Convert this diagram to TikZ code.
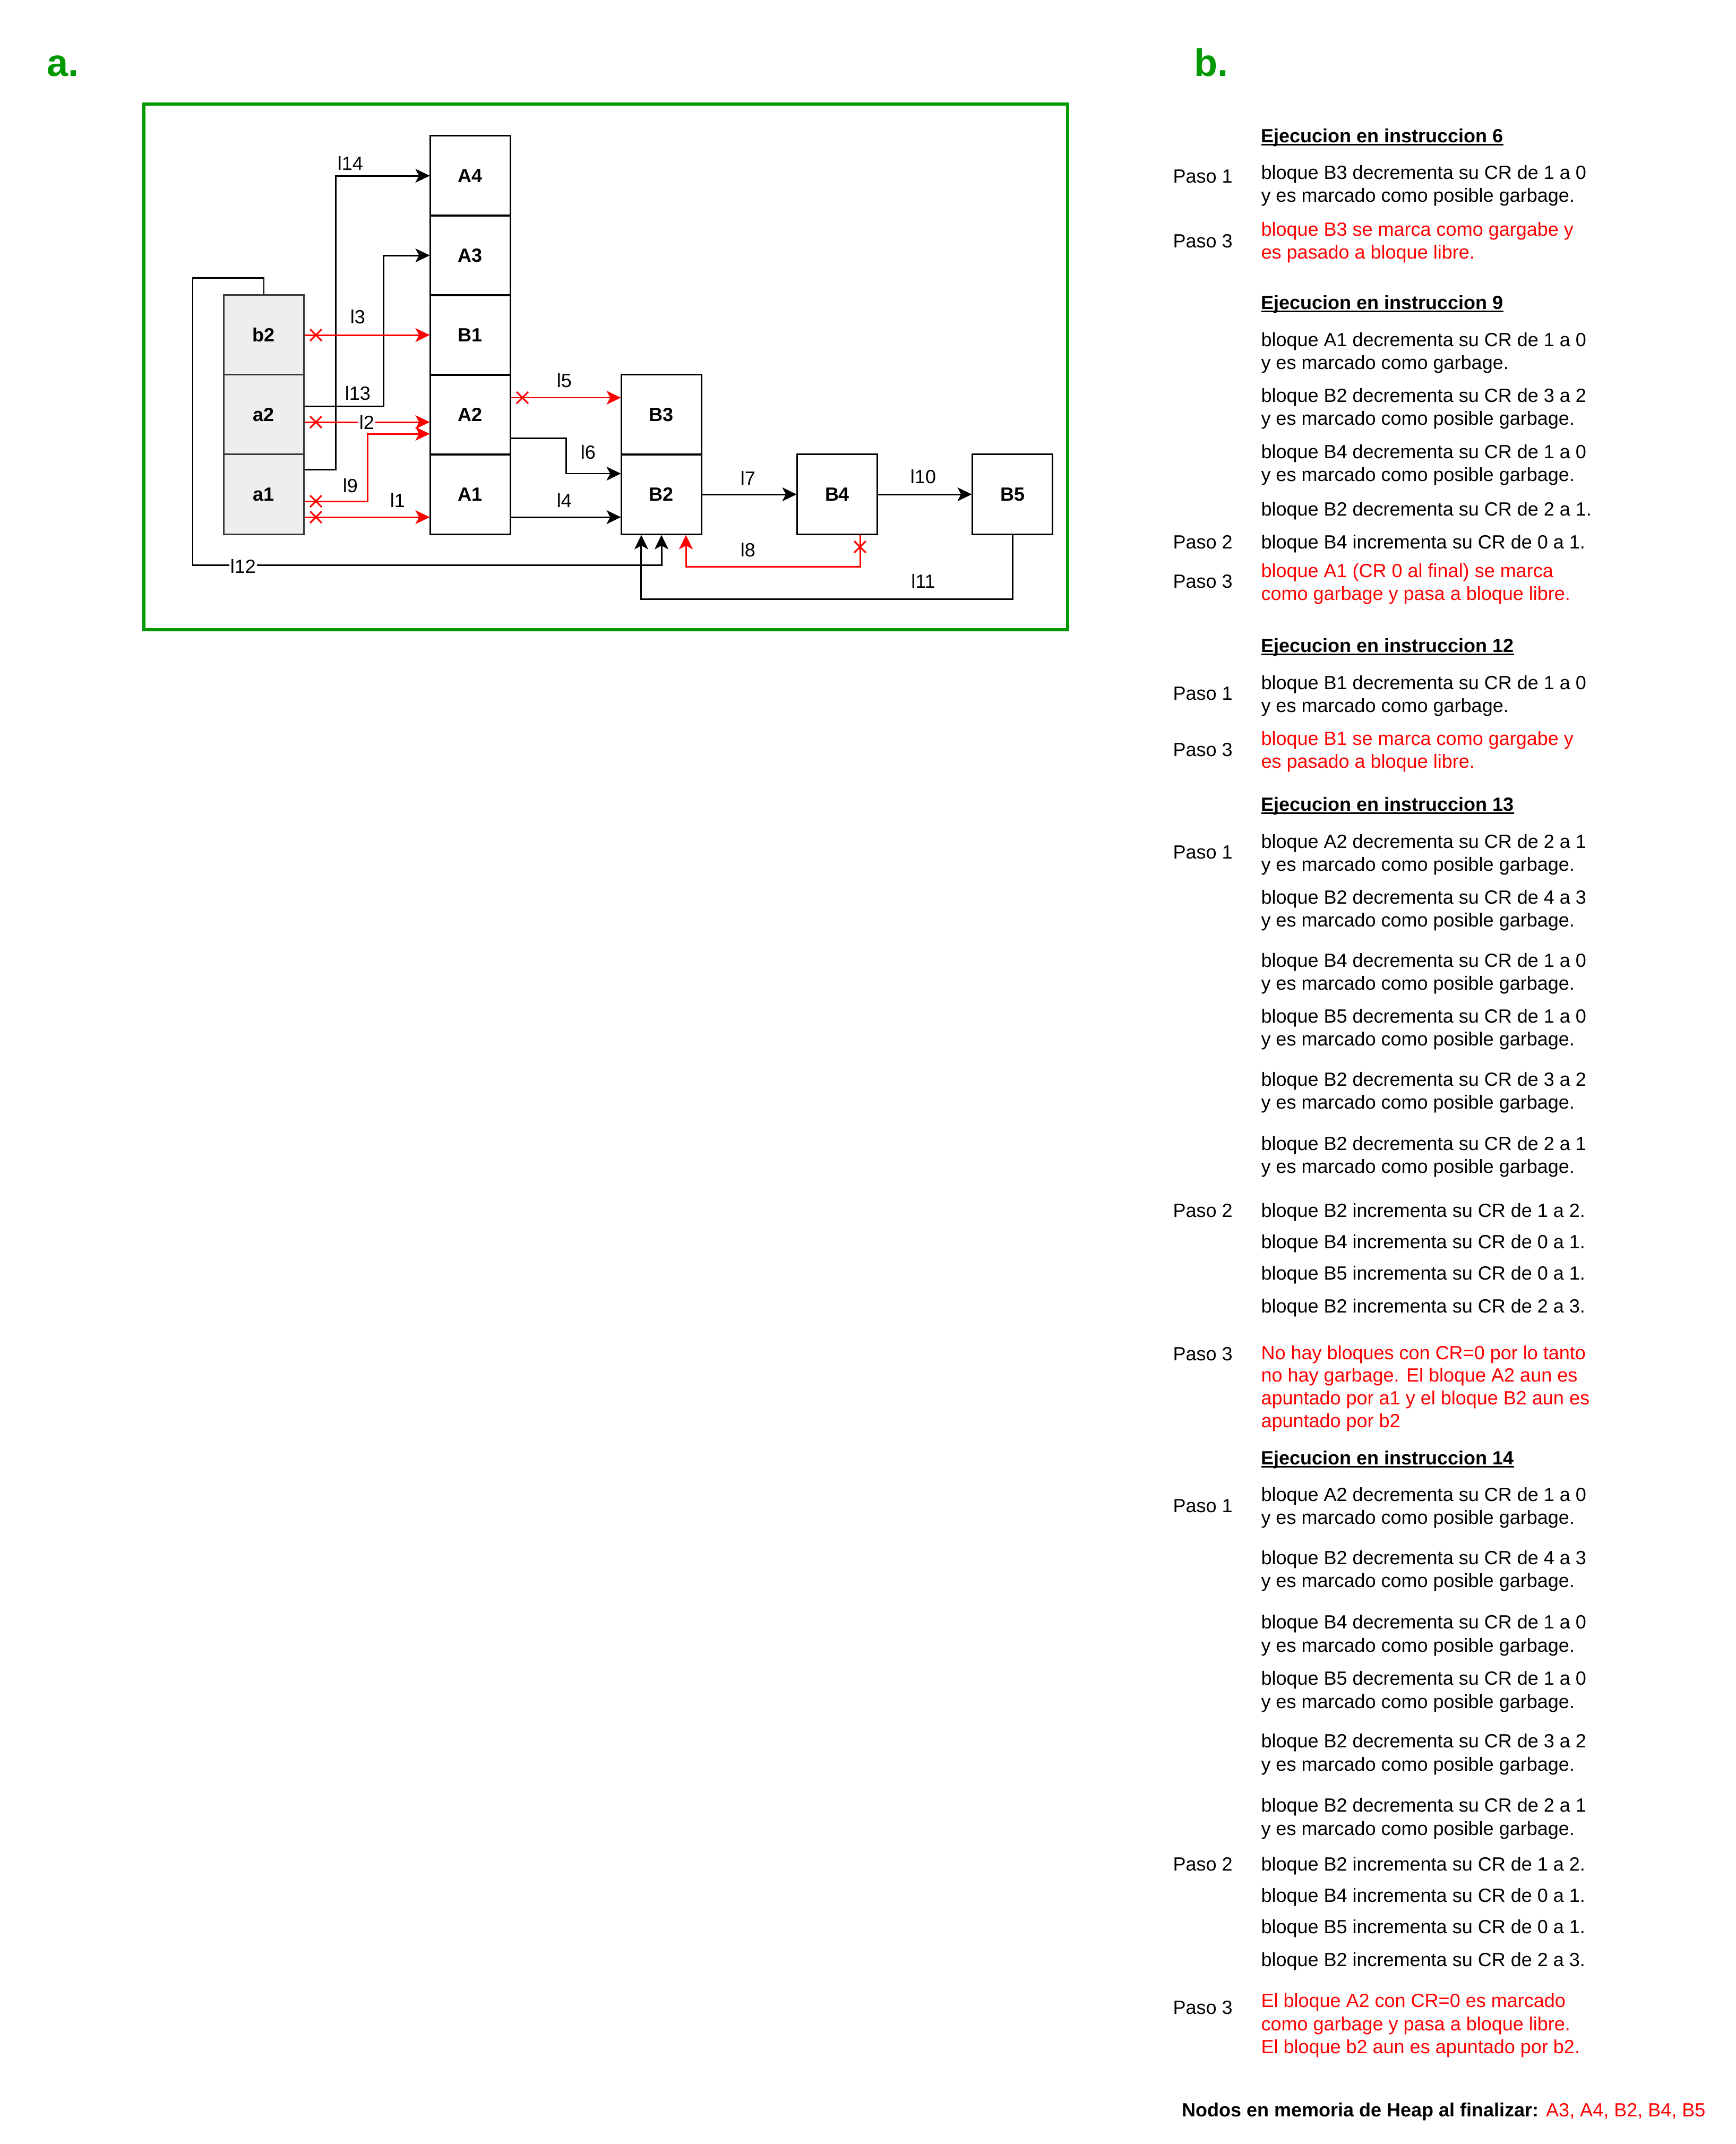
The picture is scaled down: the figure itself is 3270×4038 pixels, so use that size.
\documentclass[tikz,border=0pt]{standalone}
\usepackage{fontspec}
\setmainfont{Liberation Sans}
\usetikzlibrary{arrows.meta}
\definecolor{gr}{HTML}{009900}
\definecolor{rd}{HTML}{FF0000}
\definecolor{boxgray}{HTML}{EEEEEE}
\definecolor{boxline}{HTML}{36393D}
\newsavebox\hdrbox
\newcommand\hdrtxt[1]{\sbox\hdrbox{\bfseries #1}\rlap{\rule[-1.6pt]{\wd\hdrbox}{0.75pt}}\usebox\hdrbox}
\newcommand\mlines[1]{\begin{tabular}[t]{@{}l@{}}#1\end{tabular}}
\newcommand\xmk[2]{\draw[xcross] (#1-11,#2-11) -- (#1+11,#2+11) (#1-11,#2+11) -- (#1+11,#2-11);}
\begin{document}
\begin{tikzpicture}[x=0.01cm,y=-0.01cm,line width=0.85pt,
  >={Stealth[length=0.27cm,width=0.26cm,inset=0.07cm]},
  box/.style={draw,minimum width=1.5cm,minimum height=1.5cm,inner sep=0pt,font=\fontsize{10.24}{12.3}\selectfont\bfseries},
  vbox/.style={box,fill=boxgray,draw=boxline},
  lbl/.style={inner sep=1pt,font=\fontsize{10.24}{12.3}\selectfont},
  onl/.style={lbl,fill=white,inner sep=0.5pt},
  txt/.style={anchor=base west,inner sep=0pt,font=\fontsize{10.24}{12.5}\selectfont},
  rtxt/.style={txt,text=rd},
  big/.style={anchor=base west,inner sep=0pt,text=gr,font=\fontsize{20.5}{24}\selectfont\bfseries},
  conn/.style={->},
  rconn/.style={->,draw=rd},
  xcross/.style={draw=rd,line width=0.85pt}]
\useasboundingbox (0,0) rectangle (3270,4038);
\node[big] (la) at (87,143) {a.};
\node[big] (lb) at (2248,143) {b.};
\draw[gr,line width=1.5pt] (271,196) rectangle (2011,1186);
% boxes
\node[vbox] (b2) at (497,631) {b2};
\node[vbox] (a2) at (497,781) {a2};
\node[vbox] (a1) at (497,931) {a1};
\node[box] (A4) at (886,331) {A4};
\node[box] (A3) at (886,481) {A3};
\node[box] (B1) at (886,631) {B1};
\node[box] (A2) at (886,781) {A2};
\node[box] (A1) at (886,931) {A1};
\node[box] (B3) at (1246,781) {B3};
\node[box] (B2) at (1246,931) {B2};
\node[box] (B4) at (1577,931) {B4};
\node[box] (B5) at (1907,931) {B5};
% connectors
\draw[conn] ([yshift=0.46cm]a1.east) -- ++(59,0) |- (A4.west);
\draw[conn] ([yshift=0.16cm]a2.east) -- ++(149,0) |- (A3.west);
\draw[rconn] (b2.east) -- (B1.west);
\draw[rconn] ([yshift=-0.14cm]a2.east) -- ([yshift=-0.14cm]A2.west);
\draw[rconn] ([yshift=-0.13cm]a1.east) -- ++(119,0) |- ([yshift=-0.36cm]A2.west);
\draw[rconn] ([yshift=-0.43cm]a1.east) -- ([yshift=-0.43cm]A1.west);
\draw[rconn] ([yshift=0.32cm]A2.east) -- ([yshift=0.32cm]B3.west);
\draw[conn] ([yshift=-0.44cm]A2.east) -- ++(104,0) |- ([yshift=0.39cm]B2.west);
\draw[conn] ([yshift=-0.43cm]A1.east) -- ([yshift=-0.43cm]B2.west);
\draw[conn] (B2.east) -- (B4.west);
\draw[conn] (B4.east) -- (B5.west);
\draw[conn] (b2.north) -- ++(0,-31) -- ++(-134,0) -- ++(0,541) -| (B2.south);
\draw[conn] (B5.south) -- ++(0,121) -| ([xshift=-0.38cm]B2.south);
\draw[rconn] ([xshift=0.43cm]B4.south) -- ++(0,60) -| ([xshift=0.46cm]B2.south);
% crosses
\xmk{595}{631}
\xmk{595}{795}
\xmk{595}{944}
\xmk{595}{974}
\xmk{984}{749}
\xmk{1620}{1030}
% labels
\node[lbl] (l14) at (660,307) {l14};
\node[lbl] (l3) at (674,597) {l3};
\node[lbl] (l13) at (674,741) {l13};
\node[onl] (l2) at (691,795) {l2};
\node[lbl] (l9) at (660,915) {l9};
\node[lbl] (l1) at (749,942) {l1};
\node[lbl] (l5) at (1063,717) {l5};
\node[lbl] (l6) at (1108,852) {l6};
\node[lbl] (l4) at (1063,942) {l4};
\node[onl] (l12) at (458,1066) {l12};
\node[lbl] (l7) at (1409,900) {l7};
\node[lbl] (l10) at (1739,898) {l10};
\node[lbl] (l8) at (1409,1036) {l8};
\node[lbl] (l11) at (1739,1094) {l11};
% text column
\node[txt] (h6) at (2374,268) {\hdrtxt{Ejecucion en instruccion 6}};
\node[txt] (p61) at (2208,344) {Paso 1};
\node[txt] (t61) at (2374,337) {\mlines{bloque B3 decrementa su CR de 1 a 0\\y es marcado como posible garbage.}};
\node[txt] (p63) at (2208,466) {Paso 3};
\node[rtxt] (t63) at (2374,444) {\mlines{bloque B3 se marca como gargabe y\\es pasado a bloque libre.}};
\node[txt] (h9) at (2374,582) {\hdrtxt{Ejecucion en instruccion 9}};
\node[txt] (t91) at (2374,652) {\mlines{bloque A1 decrementa su CR de 1 a 0\\y es marcado como garbage.}};
\node[txt] (t92) at (2374,757) {\mlines{bloque B2 decrementa su CR de 3 a 2\\y es marcado como posible garbage.}};
\node[txt] (t93) at (2374,863) {\mlines{bloque B4 decrementa su CR de 1 a 0\\y es marcado como posible garbage.}};
\node[txt] (t94) at (2374,971) {bloque B2 decrementa su CR de 2 a 1.};
\node[txt] (p92) at (2208,1033) {Paso 2};
\node[txt] (t95) at (2374,1033) {bloque B4 incrementa su CR de 0 a 1.};
\node[txt] (p93) at (2208,1107) {Paso 3};
\node[rtxt] (t96) at (2374,1087) {\mlines{bloque A1 (CR 0 al final) se marca\\como garbage y pasa a bloque libre.}};
\node[txt] (h12) at (2374,1228) {\hdrtxt{Ejecucion en instruccion 12}};
\node[txt] (p121) at (2208,1318) {Paso 1};
\node[txt] (t121) at (2374,1298) {\mlines{bloque B1 decrementa su CR de 1 a 0\\y es marcado como garbage.}};
\node[txt] (p123) at (2208,1424) {Paso 3};
\node[rtxt] (t123) at (2374,1403) {\mlines{bloque B1 se marca como gargabe y\\es pasado a bloque libre.}};
\node[txt] (h13) at (2374,1527) {\hdrtxt{Ejecucion en instruccion 13}};
\node[txt] (p131) at (2208,1617) {Paso 1};
\node[txt] (t131) at (2374,1597) {\mlines{bloque A2 decrementa su CR de 2 a 1\\y es marcado como posible garbage.}};
\node[txt] (t132) at (2374,1702) {\mlines{bloque B2 decrementa su CR de 4 a 3\\y es marcado como posible garbage.}};
\node[txt] (t133) at (2374,1821) {\mlines{bloque B4 decrementa su CR de 1 a 0\\y es marcado como posible garbage.}};
\node[txt] (t134) at (2374,1926) {\mlines{bloque B5 decrementa su CR de 1 a 0\\y es marcado como posible garbage.}};
\node[txt] (t135) at (2374,2045) {\mlines{bloque B2 decrementa su CR de 3 a 2\\y es marcado como posible garbage.}};
\node[txt] (t136) at (2374,2166) {\mlines{bloque B2 decrementa su CR de 2 a 1\\y es marcado como posible garbage.}};
\node[txt] (p132) at (2208,2292) {Paso 2};
\node[txt] (t137) at (2374,2292) {bloque B2 incrementa su CR de 1 a 2.};
\node[txt] (t138) at (2374,2351) {bloque B4 incrementa su CR de 0 a 1.};
\node[txt] (t139) at (2374,2410) {bloque B5 incrementa su CR de 0 a 1.};
\node[txt] (t1310) at (2374,2472) {bloque B2 incrementa su CR de 2 a 3.};
\node[txt] (p133) at (2208,2562) {Paso 3};
\node[rtxt,font=\fontsize{10.24}{12.2}\selectfont] (t1311) at (2374,2560) {\mlines{No hay bloques con CR=0 por lo tanto\\no hay garbage. El bloque A2 aun es\\apuntado por a1 y el bloque B2 aun es\\apuntado por b2}};
\node[txt] (h14) at (2374,2758) {\hdrtxt{Ejecucion en instruccion 14}};
\node[txt] (p141) at (2208,2848) {Paso 1};
\node[txt] (t141) at (2374,2827) {\mlines{bloque A2 decrementa su CR de 1 a 0\\y es marcado como posible garbage.}};
\node[txt] (t142) at (2374,2946) {\mlines{bloque B2 decrementa su CR de 4 a 3\\y es marcado como posible garbage.}};
\node[txt] (t143) at (2374,3067) {\mlines{bloque B4 decrementa su CR de 1 a 0\\y es marcado como posible garbage.}};
\node[txt] (t144) at (2374,3173) {\mlines{bloque B5 decrementa su CR de 1 a 0\\y es marcado como posible garbage.}};
\node[txt] (t145) at (2374,3291) {\mlines{bloque B2 decrementa su CR de 3 a 2\\y es marcado como posible garbage.}};
\node[txt] (t146) at (2374,3412) {\mlines{bloque B2 decrementa su CR de 2 a 1\\y es marcado como posible garbage.}};
\node[txt] (p142) at (2208,3523) {Paso 2};
\node[txt] (t147) at (2374,3523) {bloque B2 incrementa su CR de 1 a 2.};
\node[txt] (t148) at (2374,3582) {bloque B4 incrementa su CR de 0 a 1.};
\node[txt] (t149) at (2374,3641) {bloque B5 incrementa su CR de 0 a 1.};
\node[txt] (t1410) at (2374,3703) {bloque B2 incrementa su CR de 2 a 3.};
\node[txt] (p143) at (2208,3793) {Paso 3};
\node[rtxt] (t1411) at (2374,3780) {\mlines{El bloque A2 con CR=0 es marcado\\como garbage y pasa a bloque libre.\\El bloque b2 aun es apuntado por b2.}};
\node[txt] (fin) at (2225,3986) {\textbf{Nodos en memoria de Heap al finalizar:} \textcolor{rd}{A3, A4, B2, B4, B5}};
\end{tikzpicture}
\end{document}
